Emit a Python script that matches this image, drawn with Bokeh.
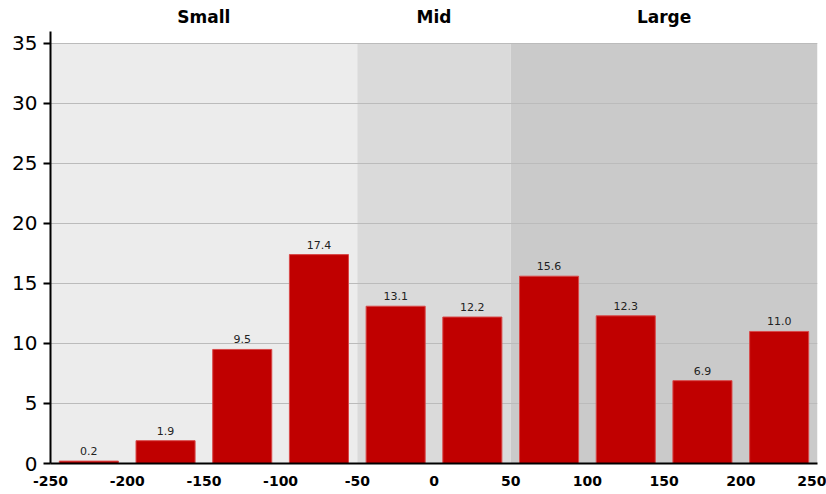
from bokeh.plotting import figure
from bokeh.models import ColumnDataSource, FixedTicker, BoxAnnotation
from bokeh.core.properties import value
from bokeh.embed import file_html
from bokeh.resources import INLINE

# Data
bin_centers = [-225, -175, -125, -75, -25, 25, 75, 125, 175, 225]
values = [0.2, 1.9, 9.5, 17.4, 13.1, 12.2, 15.6, 12.3, 6.9, 11.0]
value_labels = ["0.2", "1.9", "9.5", "17.4", "13.1", "12.2", "15.6", "12.3", "6.9", "11.0"]
groups = ["Small", "Mid", "Large"]
group_edges = [(-250, -50), (-50, 50), (50, 250)]
group_colors = ["#ececec", "#dadada", "#cacaca"]
x_ticks = [-250, -200, -150, -100, -50, 0, 50, 100, 150, 200, 250]
y_ticks = [0, 5, 10, 15, 20, 25, 30, 35]
y_axis_top = 36

FONT = "DejaVu Sans"

p = figure(width=826, height=494, x_range=(-250, 250), y_range=(0, 37.9),
           output_backend="svg", toolbar_location=None,
           min_border_left=50, min_border_right=9, min_border_top=8, min_border_bottom=31)
p.outline_line_color = None
p.background_fill_color = "white"
p.border_fill_color = "white"

# Background bands
for (l, r), c in zip(group_edges, group_colors):
    p.add_layout(BoxAnnotation(left=l, right=r, bottom=0, top=y_ticks[-1],
                               fill_color=c, fill_alpha=1.0, line_color=None, level="image"))

# Group labels (inside the frame, above the axis top)
gsrc = ColumnDataSource(dict(x=[(l + r) / 2 for l, r in group_edges],
                             y=[37.2] * len(groups), t=groups))
p.text(x="x", y="y", text="t", source=gsrc, text_align="center", text_baseline="middle",
       text_font=value(FONT), text_font_style="bold", text_font_size="17px",
       text_color="black")

src = ColumnDataSource(dict(x=bin_centers, top=values, lab=value_labels))
p.vbar(x="x", top="top", bottom=0, width=38.5, source=src,
       fill_color="#c00000", line_color="#d84848", line_width=1)

p.text(x="x", y="top", text="lab", source=src, text_align="center",
       text_baseline="bottom", y_offset=-6, text_font=value(FONT),
       text_font_size="11px", text_color="#222222")

# Axes
p.xaxis.ticker = FixedTicker(ticks=x_ticks)
p.xaxis.major_label_overrides = {t: str(t) for t in x_ticks}
p.yaxis.ticker = FixedTicker(ticks=y_ticks)
p.yaxis.bounds = (0, y_axis_top)
p.xgrid.grid_line_color = None
p.ygrid.grid_line_color = "#bbbbbb"
p.ygrid.grid_line_width = 1

p.xaxis.axis_line_width = 2
p.xaxis.axis_line_color = "black"
p.xaxis.major_tick_line_color = None
p.xaxis.major_tick_out = 0
p.xaxis.major_tick_in = 0
p.xaxis.minor_tick_line_color = None
p.xaxis.minor_tick_out = 0
p.xaxis.major_label_text_font = FONT
p.xaxis.major_label_text_font_style = "bold"
p.xaxis.major_label_text_font_size = "14px"
p.xaxis.major_label_text_color = "black"
p.xaxis.major_label_standoff = 12

p.yaxis.axis_line_width = 2
p.yaxis.axis_line_color = "black"
p.yaxis.major_tick_line_width = 2
p.yaxis.major_tick_line_color = "black"
p.yaxis.major_tick_out = 7
p.yaxis.major_tick_in = 0
p.yaxis.minor_tick_line_color = None
p.yaxis.minor_tick_out = 0
p.yaxis.major_label_text_font = FONT
p.yaxis.major_label_text_font_size = "20px"
p.yaxis.major_label_text_color = "black"
p.yaxis.major_label_standoff = 6

open("out.html", "w").write(file_html(p, INLINE))
